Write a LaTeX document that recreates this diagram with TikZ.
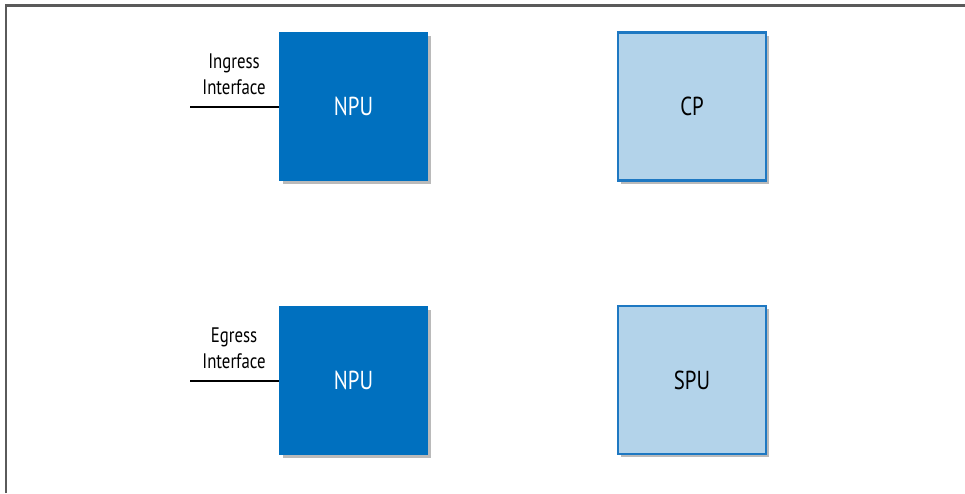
\documentclass[tikz,border=0pt]{standalone}
\usepackage{fontspec}
\setmainfont[FakeStretch=0.8]{PT Sans}
\usetikzlibrary{shadows}
\definecolor{npublue}{HTML}{0070BF}
\definecolor{lightfill}{HTML}{B3D3EA}
\definecolor{lightedge}{HTML}{1E78C2}
\definecolor{framegray}{HTML}{5A5A5A}
\tikzset{
  box/.style={minimum width=148pt, minimum height=148pt, inner sep=0pt,
    font=\fontsize{26}{30}\selectfont,
    drop shadow={shadow xshift=3pt, shadow yshift=-3pt, opacity=0.45, fill=black!60}},
  darkbox/.style={box, fill=npublue, draw=npublue, line width=1pt, text=white},
  lightbox/.style={box, fill=lightfill, draw=lightedge, line width=2.2pt, text=black},
  iflabel/.style={align=center, font=\fontsize{21}{26}\selectfont, inner sep=0pt},
  ifline/.style={line width=2.6pt, black}
}
\begin{document}
\begin{tikzpicture}[x=1pt, y=-1pt]
\useasboundingbox (0,0) rectangle (965,493);
\draw[framegray, line width=2.2pt] (6,493) -- (6,5.5) -- (965,5.5);
\node[darkbox] (npu1) at (353.5,106.5) {NPU};
\node[lightbox] (cp) at (692,106.5) {CP};
\node[darkbox] (npu2) at (353.5,380.5) {NPU};
\node[lightbox] (spu) at (692,380) {SPU};
\coordinate (in) at (190,107);
\coordinate (eg) at (190,381);
\draw[ifline] (in) -- (in -| npu1.west);
\draw[ifline] (eg) -- (eg -| npu2.west);
\node[iflabel] (inl) at (234,74) {Ingress\\Interface};
\node[iflabel] (egl) at (234,348) {Egress\\Interface};
\end{tikzpicture}
\end{document}
